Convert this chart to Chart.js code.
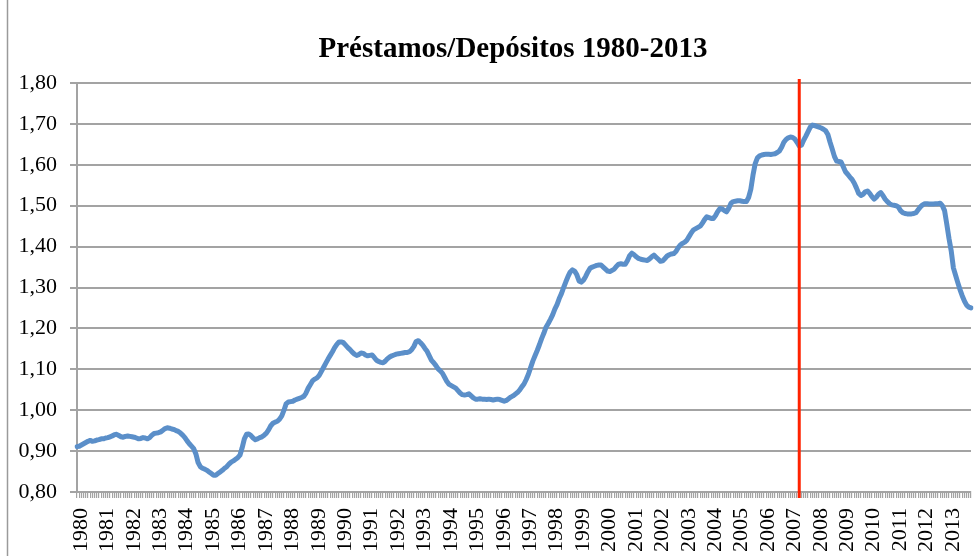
<!DOCTYPE html>
<html>
<head>
<meta charset="utf-8">
<title>Préstamos/Depósitos 1980-2013</title>
<script src="https://cdn.jsdelivr.net/npm/chart.js"></script>
<style>
  body { margin: 0; background: #fff; }
  #chart { display: block; }
</style>
</head>
<body>
<canvas id="chart" width="977" height="556"></canvas>
<script>
// ratio prestamos/depositos, un valor por mes (ene 1980 - nov 2013)
const ratio1980s = [
    0.911, 0.912, 0.915, 0.918, 0.921, 0.924, 0.926, 0.924, 0.925, 0.927, 0.928, 0.930,
    0.930, 0.932, 0.933, 0.935, 0.937, 0.940, 0.941, 0.938, 0.935, 0.934, 0.936, 0.937,
    0.936, 0.935, 0.934, 0.932, 0.930, 0.931, 0.933, 0.932, 0.930, 0.933, 0.939, 0.943,
    0.944, 0.945, 0.947, 0.951, 0.955, 0.957, 0.956, 0.954, 0.953, 0.950, 0.948, 0.944,
    0.939, 0.933, 0.925, 0.918, 0.912, 0.906, 0.893, 0.872, 0.862, 0.858, 0.856, 0.853,
    0.849, 0.845, 0.841, 0.841, 0.845, 0.849, 0.853, 0.858, 0.862, 0.868, 0.873, 0.876,
    0.880, 0.884, 0.890, 0.908, 0.930, 0.941, 0.942, 0.938, 0.932, 0.928, 0.930, 0.933,
    0.935, 0.939, 0.944, 0.952, 0.962, 0.968, 0.971, 0.973, 0.978, 0.986, 1.000, 1.016,
    1.020, 1.021, 1.022, 1.025, 1.027, 1.029, 1.031, 1.034, 1.042, 1.054, 1.063, 1.072,
    1.076, 1.079, 1.085, 1.095, 1.105, 1.115, 1.125, 1.134, 1.143, 1.153, 1.161, 1.167
];
const ratio1990s = [
    1.167, 1.165, 1.159, 1.153, 1.148, 1.142, 1.137, 1.134, 1.136, 1.140, 1.139, 1.135,
    1.133, 1.134, 1.135, 1.129, 1.122, 1.119, 1.117, 1.116, 1.120, 1.126, 1.130, 1.133,
    1.135, 1.137, 1.138, 1.139, 1.140, 1.141, 1.141, 1.143, 1.148, 1.156, 1.168, 1.170,
    1.165, 1.159, 1.151, 1.144, 1.133, 1.122, 1.116, 1.109, 1.101, 1.096, 1.090, 1.080,
    1.070, 1.063, 1.060, 1.057, 1.054, 1.048, 1.042, 1.038, 1.037, 1.038, 1.040, 1.035,
    1.030, 1.027, 1.027, 1.028, 1.027, 1.027, 1.026, 1.027, 1.026, 1.025, 1.026, 1.027,
    1.026, 1.024, 1.022, 1.024, 1.028, 1.032, 1.035, 1.039, 1.043, 1.049, 1.057, 1.064,
    1.075, 1.088, 1.104, 1.120, 1.133, 1.146, 1.160, 1.175, 1.188, 1.203, 1.212, 1.222,
    1.233, 1.247, 1.258, 1.273, 1.285, 1.300, 1.314, 1.327, 1.338, 1.343, 1.340, 1.331,
    1.316, 1.313, 1.318, 1.327, 1.338, 1.347, 1.350, 1.352, 1.354, 1.355, 1.355, 1.350
];
const ratio2000s = [
    1.345, 1.340, 1.339, 1.342, 1.345, 1.352, 1.357, 1.358, 1.357, 1.357, 1.366, 1.378,
    1.384, 1.380, 1.375, 1.371, 1.369, 1.368, 1.367, 1.366, 1.370, 1.375, 1.379, 1.374,
    1.369, 1.364, 1.365, 1.371, 1.377, 1.380, 1.382, 1.383, 1.388, 1.397, 1.404, 1.408,
    1.411, 1.416, 1.425, 1.434, 1.441, 1.444, 1.447, 1.450, 1.457, 1.466, 1.473, 1.471,
    1.469, 1.469, 1.476, 1.486, 1.493, 1.492, 1.488, 1.485, 1.494, 1.506, 1.510, 1.511,
    1.512, 1.512, 1.511, 1.510, 1.510, 1.520, 1.540, 1.575, 1.603, 1.617, 1.622, 1.624,
    1.625, 1.626, 1.626, 1.625, 1.626, 1.627, 1.630, 1.634, 1.643, 1.655, 1.662, 1.666,
    1.668, 1.667, 1.663, 1.655, 1.646, 1.648, 1.660, 1.670, 1.681, 1.692, 1.697, 1.696,
    1.694, 1.692, 1.690, 1.687, 1.683, 1.674, 1.655, 1.638, 1.620, 1.609, 1.608, 1.607,
    1.595, 1.583, 1.577, 1.570, 1.564, 1.555, 1.543, 1.530, 1.525, 1.528, 1.534, 1.536
];
const ratio2010s = [
    1.530, 1.522, 1.516, 1.521, 1.528, 1.532, 1.525, 1.516, 1.510, 1.505, 1.502, 1.501,
    1.500, 1.497, 1.488, 1.483, 1.481, 1.480, 1.480, 1.480, 1.481, 1.483, 1.490, 1.497,
    1.502, 1.505, 1.505, 1.504, 1.504, 1.504, 1.505, 1.505, 1.506, 1.500, 1.488, 1.455,
    1.420, 1.390, 1.348, 1.330, 1.312, 1.295, 1.280, 1.267, 1.257, 1.252, 1.250
];

const firstYear = 1980;
const crisisMonth = '2007-05';   // linea roja
const yMin = 0.8, yMax = 1.8, yStep = 0.1;
const chartTitle = 'Préstamos/Depósitos 1980-2013';

const ratio = ratio1980s.concat(ratio1990s, ratio2000s, ratio2010s);

// etiquetas "aaaa-mm", solo se muestra el año en enero
const months = ratio.map((v, i) => {
    const y = firstYear + Math.floor(i / 12);
    const m = String(i % 12 + 1).padStart(2, '0');
    return y + '-' + m;
});

const serif = "'Liberation Serif', 'Times New Roman', serif";
const gridGray = '#a3a3a3';

// fondo, borde izquierdo del grafico y titulo (el titulo de excel no esta centrado en el canvas)
const frame = {
    id: 'frame',
    beforeDraw(chart) {
        const ctx = chart.ctx;
        ctx.save();
        ctx.fillStyle = '#fff';
        ctx.fillRect(0, 0, chart.width, chart.height);
        ctx.strokeStyle = '#9a9a9a';
        ctx.lineWidth = 1.5;
        ctx.beginPath();
        ctx.moveTo(7.5, 0);
        ctx.lineTo(7.5, chart.height);
        ctx.stroke();
        ctx.restore();
    },
    afterDraw(chart) {
        const ctx = chart.ctx;
        ctx.save();
        ctx.fillStyle = '#000';
        ctx.font = 'bold 29px ' + serif;
        ctx.textAlign = 'center';
        ctx.textBaseline = 'middle';
        ctx.fillText(chartTitle, 513, 50);
        ctx.restore();
    }
};

const redLine = {
    id: 'redLine',
    afterDatasetsDraw(chart) {
        const x = chart.scales.x.getPixelForValue(months.indexOf(crisisMonth));
        const area = chart.chartArea;
        const ctx = chart.ctx;
        ctx.save();
        ctx.strokeStyle = '#ff2200';
        ctx.lineWidth = 3;
        ctx.beginPath();
        ctx.moveTo(x, area.top - 4);
        ctx.lineTo(x, area.bottom + 6);
        ctx.stroke();
        ctx.restore();
    }
};

new Chart(document.getElementById('chart'), {
    type: 'line',
    data: {
        labels: months,
        datasets: [{
            label: chartTitle,
            data: ratio,
            borderColor: '#5b8fc9',
            borderWidth: 5,
            pointRadius: 0,
            tension: 0,
            borderCapStyle: 'round',
            borderJoinStyle: 'round'
        }]
    },
    options: {
        responsive: false,
        animation: false,
        layout: { padding: { left: 0, right: 6, top: 83, bottom: 0 } },
        plugins: {
            legend: { display: false },
            tooltip: { enabled: false },
            title: { display: false }
        },
        scales: {
            x: {
                afterFit(scale) {
                    scale.height = 64;
                    scale.paddingLeft = 0;
                    scale.paddingRight = 0;
                },
                grid: {
                    drawOnChartArea: false,
                    drawTicks: true,
                    tickLength: 6,
                    color: gridGray,
                    lineWidth: 1.2
                },
                border: { color: gridGray, width: 2 },
                ticks: {
                    autoSkip: false,
                    maxRotation: 90,
                    minRotation: 90,
                    padding: 10,
                    labelOffset: 4,
                    color: '#000',
                    font: { family: serif, size: 22 },
                    callback(value) {
                        const lab = this.getLabelForValue(value);
                        return lab.endsWith('-01') ? lab.slice(0, 4) : '';
                    }
                }
            },
            y: {
                min: yMin,
                max: yMax,
                afterFit(scale) {
                    scale.width = 77;
                    scale.paddingTop = 0;
                    scale.paddingBottom = 0;
                },
                grid: {
                    color: gridGray,
                    lineWidth: 2,
                    tickLength: 7
                },
                border: { color: gridGray, width: 2 },
                ticks: {
                    stepSize: yStep,
                    padding: 13,
                    color: '#000',
                    font: { family: serif, size: 22 },
                    callback(value) {
                        return value.toFixed(2).replace('.', ',');
                    }
                }
            }
        }
    },
    plugins: [frame, redLine]
});
</script>
</body>
</html>
